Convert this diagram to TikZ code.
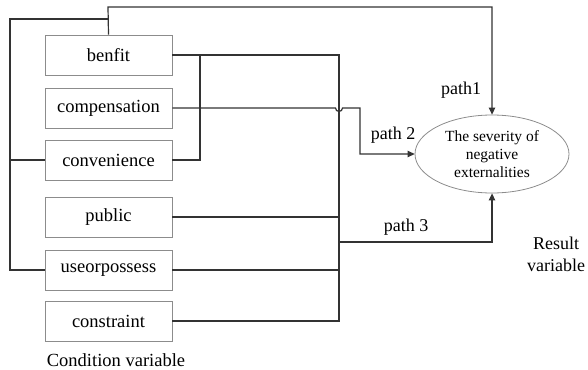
\documentclass[tikz,border=0pt]{standalone}
\usepackage{fontspec}
\setmainfont{Liberation Serif}
\usetikzlibrary{arrows.meta,shapes.geometric}
\begin{document}
\begin{tikzpicture}[x=1pt,y=-1pt,
  varbox/.style={draw=black!45, line width=0.8pt, minimum width=127pt, minimum height=40pt, inner sep=0pt, font=\fontsize{18.5}{20}\selectfont},
  conn/.style={draw=black!80, line width=1.2pt},
  arr/.style={conn, -{Triangle[length=7pt,width=6.5pt]}},
  lbl/.style={font=\fontsize{18}{20}\selectfont, inner sep=0pt}]
\useasboundingbox (0,0) rectangle (588,369);
\node[varbox] (benfit) at (108.5,55) {benfit};
\node[varbox] (comp) at (108.5,108) {compensation};
\node[varbox] (conv) at (108.5,160) {convenience};
\node[varbox] (public) at (108.5,217) {public};
\node[varbox] (use) at (108.5,270) {useorpossess};
\node[varbox] (cons) at (108.5,321) {constraint};
\node[lbl, anchor=base, font=\fontsize{18.5}{20}\selectfont] (condlbl) at (116,366) {Condition variable};
\node[draw=black!45, line width=0.8pt, ellipse, minimum width=154pt, minimum height=78pt, inner sep=0pt, align=center, font=\fontsize{15.5}{18}\selectfont] (ell) at (492,154) {The severity of\\negative\\externalities};
\node[lbl] (p1) at (461,90) {path1};
\node[lbl] (p2) at (393,135) {path 2};
\node[lbl] (p3) at (406,227) {path 3};
\node[lbl, align=center, font=\fontsize{18}{22}\selectfont] (res) at (556,254) {Result\\variable};
\coordinate (top1) at (108,7);
\coordinate (top2) at (492,7);
\coordinate (lb1) at (10,19);
\coordinate (lb2) at (108,19);
\coordinate (lbbot) at (10,270);
\coordinate (lbmid) at (10,160);
\coordinate (bus1) at (339,55);
\coordinate (bus2) at (339,321);
\coordinate (cv) at (200,55);
\coordinate (cvb) at (200,160);
\coordinate (hop1) at (335.5,108);
\coordinate (hop2) at (360,108);
\coordinate (p2c) at (360,154);
\coordinate (p3a) at (339,242);
\coordinate (p3b) at (492,242);
% path 1
\draw[arr] (benfit.north) -- (top1) -- (top2) -- (ell.north);
% left bus
\draw[conn] (use.west) -- (lbbot) -- (lb1) -- (lb2);
\draw[conn] (conv.west) -- (lbmid);
% right bus
\draw[conn] (benfit.east) -- (bus1) -- (bus2) -- (cons.east);
\draw[conn] (conv.east) -- (cvb) -- (cv);
\draw[conn] (public.east) -- (public.east -| bus1);
\draw[conn] (use.east) -- (use.east -| bus1);
% path 2 with hop
\draw[arr] (comp.east) -- (hop1) arc[start angle=180, end angle=0, radius=3.5] -- (hop2) -- (p2c) -- (ell.west);
% path 3
\draw[arr] (p3a) -- (p3b) -- (ell.south);
\end{tikzpicture}
\end{document}
